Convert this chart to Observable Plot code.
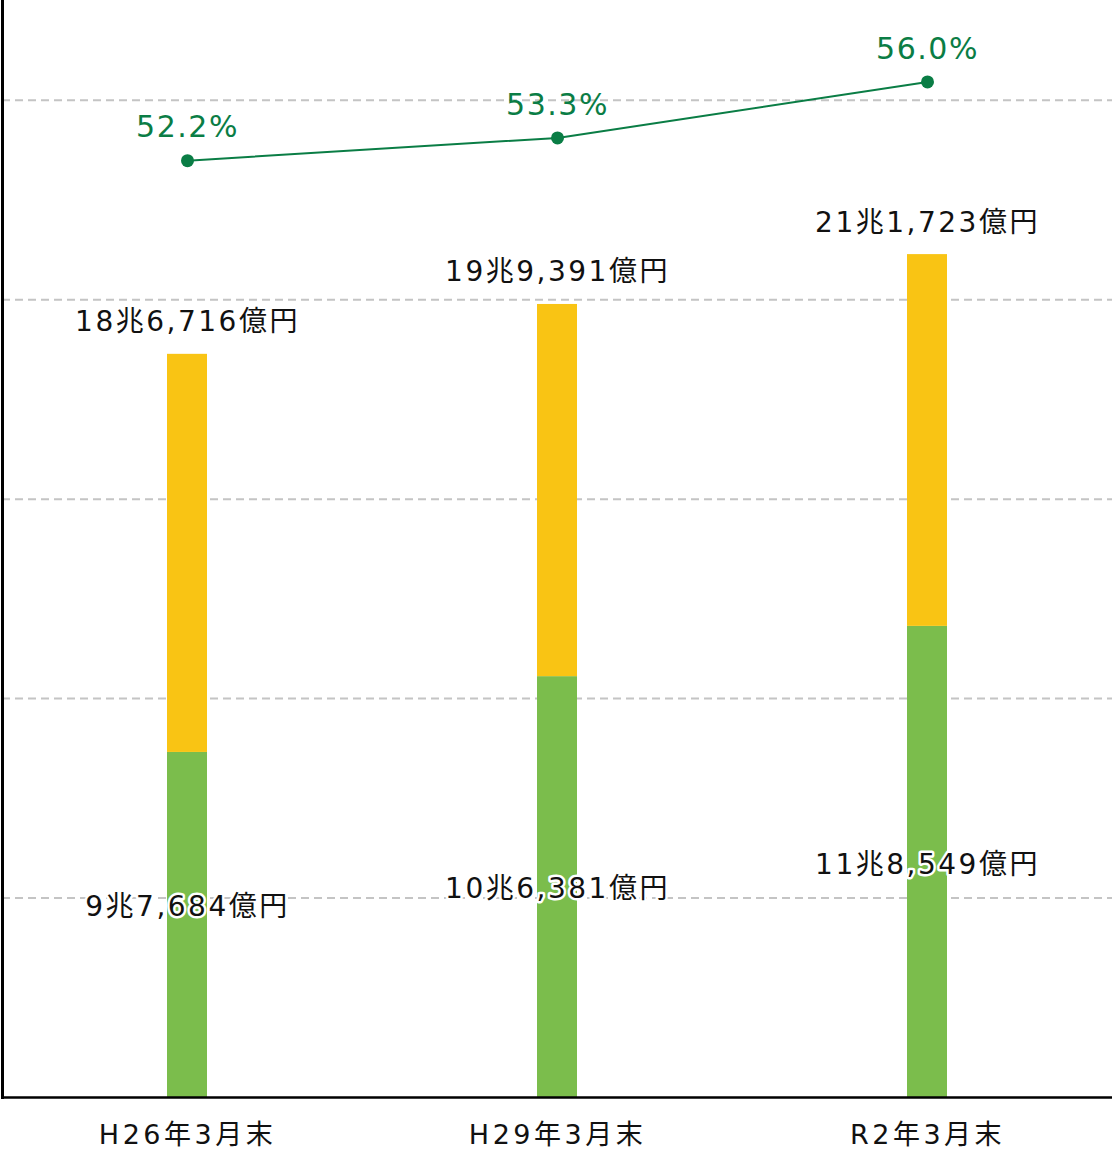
<!DOCTYPE html>
<html>
<head>
<meta charset="utf-8">
<script src="https://cdn.jsdelivr.net/npm/d3@7"></script>
<script src="https://cdn.jsdelivr.net/npm/@observablehq/plot@0.6"></script>
<style>
  html, body { margin: 0; padding: 0; background: #fff; }
  #chart { position: relative; width: 1112px; height: 1150px; }
  #chart > svg { position: absolute; left: 0; top: 0; }
</style>
</head>
<body>
<div id="chart"></div>
<script>
// Categories (x axis tick labels)
const categories = ["H26年3月末", "H29年3月末", "R2年3月末"];
// Green (lower) segment heights as drawn, in 兆円
const greenBar = [8.65, 10.55, 11.81];
// Stack totals as drawn, in 兆円
const totalBar = [18.63, 19.88, 21.13];
// Amounts given by the green labels, in 兆円
const greenValue = [9.7684, 10.6381, 11.8549];
// Label texts
const totalLabels = ["18兆6,716億円", "19兆9,391億円", "21兆1,723億円"];
const greenLabels = ["9兆7,684億円", "10兆6,381億円", "11兆8,549億円"];
// Ratio line (%)
const ratio = [52.2, 53.3, 56.0];
// Gridline values
const gridTicks = [5, 10, 15, 20, 25];

const rows = categories.map((c, i) => ({
  cat: c, green: greenBar[i], total: totalBar[i], greenValue: greenValue[i],
  totalLabel: totalLabels[i], greenLabel: greenLabels[i], ratio: ratio[i]
}));

const fontFamily = "'DejaVu Sans', 'Noto Sans CJK JP', sans-serif";
const W = 1112, H = 1150;
const common = {width: W, height: H, marginTop: 0, marginBottom: 53, marginLeft: 2, marginRight: 0};

const main = Plot.plot({
  ...common,
  style: {fontFamily, background: "transparent", color: "#111"},
  x: {type: "band", domain: categories, padding: 0, label: null},
  y: {domain: [0, 27.5], axis: null},
  marks: [
    Plot.ruleY(gridTicks, {stroke: "#c4c4c4", strokeWidth: 2, strokeDasharray: "8,5"}),
    Plot.barY(rows, {x: "cat", y1: 0, y2: "green", fill: "#7BBD4C", insetLeft: 165, insetRight: 165}),
    Plot.barY(rows, {x: "cat", y1: "green", y2: "total", fill: "#F9C414", insetLeft: 165, insetRight: 165}),
    Plot.ruleY([0], {stroke: "#000", strokeWidth: 2.5}),
    Plot.frame({anchor: "left", stroke: "#000", strokeWidth: 3}),
    Plot.text(rows, {x: "cat", y: "total", text: "totalLabel", dy: -32, fontSize: 28, fill: "#111"}),
    Plot.text(rows, {x: "cat", y: d => d.greenValue / 2, text: "greenLabel", dy: 4, fontSize: 28, fill: "#111", stroke: "white", strokeWidth: 5}),
    Plot.axisX({tickSize: 0, tickPadding: 27, fontSize: 27, fill: "#111", label: null})
  ]
});

const overlay = Plot.plot({
  ...common,
  style: {fontFamily, background: "transparent"},
  x: {type: "band", domain: categories, padding: 0, axis: null},
  y: {domain: [7.0, 59.93], axis: null},
  marks: [
    Plot.lineY(rows, {x: "cat", y: "ratio", stroke: "#0A7D45", strokeWidth: 2}),
    Plot.dot(rows, {x: "cat", y: "ratio", r: 6.5, fill: "#0A7D45"}),
    Plot.text(rows, {x: "cat", y: "ratio", text: d => d.ratio.toFixed(1) + "%", dy: -33, fontSize: 30, fill: "#0A7D45"})
  ]
});

// letter spacing per text group (wide lettering of the reference)
main.querySelectorAll('g[aria-label="text"]').forEach(g => g.setAttribute("letter-spacing", "2.5px"));
main.querySelectorAll('g[aria-label="x-axis tick label"]').forEach(g => g.setAttribute("letter-spacing", "3.5px"));
overlay.querySelectorAll('g[aria-label="text"]').forEach(g => g.setAttribute("letter-spacing", "1.5px"));

const el = document.getElementById("chart");
el.appendChild(main);
el.appendChild(overlay);
</script>
</body>
</html>
